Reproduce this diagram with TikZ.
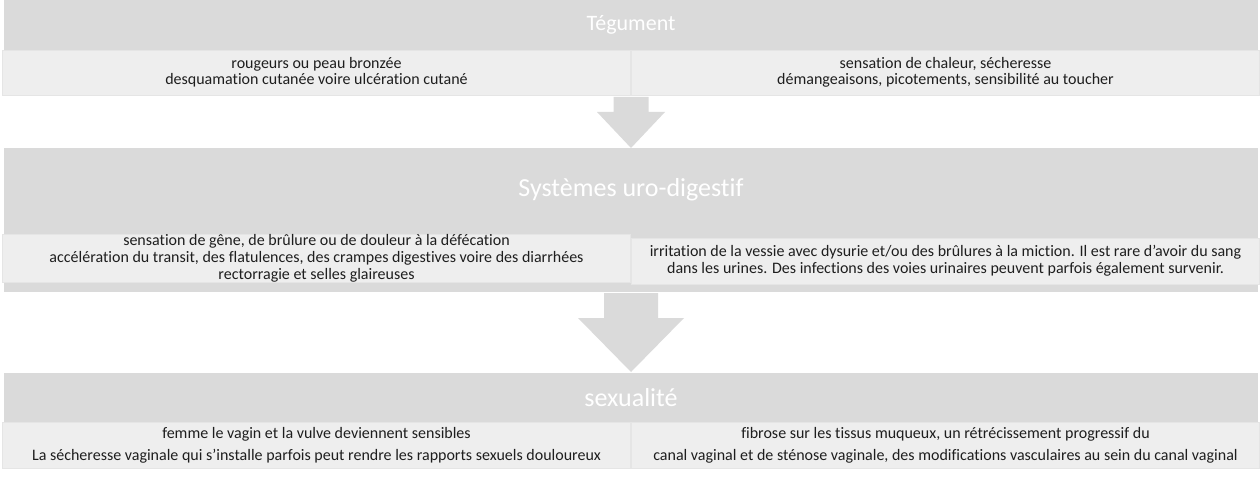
\documentclass[tikz,border=0pt]{standalone}
\usepackage{fontspec}
\setmainfont{Carlito}[Ligatures=NoCommon]

\definecolor{grisbandeau}{RGB}{218,218,218}
\definecolor{griscellule}{RGB}{238,238,238}
\definecolor{grisbord}{RGB}{229,229,229}
\definecolor{gristexte}{RGB}{30,30,30}

\begin{document}
\begin{tikzpicture}[x=1pt,y=-1pt]
    % Définition des styles
    \tikzset{
        bandeau/.style={
            rectangle,
            fill=grisbandeau,
            minimum width=1254pt,
            minimum height=#1,
            inner sep=0pt,
            text=white,
            font=\fontsize{26}{30}\selectfont
        },
        cellule/.style={
            rectangle,
            fill=griscellule,
            draw=grisbord,
            line width=0.6pt,
            minimum width=628pt,
            minimum height=46pt,
            inner sep=0pt,
            align=center,
            text=gristexte,
            font=\fontsize{16}{#1}\selectfont
        },
        cellule/.default=17pt,
        fleche/.style={fill=grisbandeau}
    }

    \useasboundingbox (0,0) rectangle (1260,494);

    % Bandeaux
    \node[bandeau=50pt, font=\fontsize{22}{26}\selectfont] at (631,25) (teg) {Tégument};
    \node[bandeau=144pt] at (631,220) (uro) {};
    \node[text=white, font=\fontsize{26}{30}\selectfont] at (631,190) (urotitre) {Systèmes uro-digestif};
    \node[bandeau=49pt] at (631,397.5) (sex) {sexualité};

    % Cellules
    \node[cellule=16pt, minimum height=45pt] at (316.5,72.5) (tegG) {
        rougeurs ou peau bronzée\\
        desquamation cutanée voire ulcération cutané
    };
    \node[cellule=16pt, minimum height=45pt] at (945.5,72.5) (tegD) {
        sensation de chaleur, sécheresse\\
        démangeaisons, picotements, sensibilité au toucher
    };

    \node[cellule] at (316.5,258) (uroG) {
        sensation de gêne, de brûlure ou de douleur à la défécation\\
        accélération du transit, des flatulences, des crampes digestives voire des diarrhées\\
        rectorragie et selles glaireuses
    };
    \node[cellule] at (945.5,261) (uroD) {
        irritation de la vessie avec dysurie et/ou des brûlures à la miction. Il est rare d’avoir du sang\\
        dans les urines. Des infections des voies urinaires peuvent parfois également survenir.
    };

    \node[cellule=22pt] at (316.5,445) (sexG) {
        femme le vagin et la vulve deviennent sensibles\\
        La sécheresse vaginale qui s’installe parfois peut rendre les rapports sexuels douloureux
    };
    \node[cellule=22pt] at (945.5,445) (sexD) {
        fibrose sur les tissus muqueux, un rétrécissement progressif du\\
        canal vaginal et de sténose vaginale, des modifications vasculaires au sein du canal vaginal
    };

    % Flèches
    \coordinate (f1) at (631,97);
    \coordinate (f2) at (631,293);
    \fill[fleche] (f1) ++(-17.5,0) -- ++(35,0) -- ++(0,15) -- ++(16.5,0)
        -- ++(-34,36) -- ++(-34,-36) -- ++(16.5,0) -- cycle;
    \fill[fleche] (f2) ++(-27,0) -- ++(54,0) -- ++(0,25) -- ++(26,0)
        -- ++(-53,54) -- ++(-53,-54) -- ++(26,0) -- cycle;

\end{tikzpicture}
\end{document}
